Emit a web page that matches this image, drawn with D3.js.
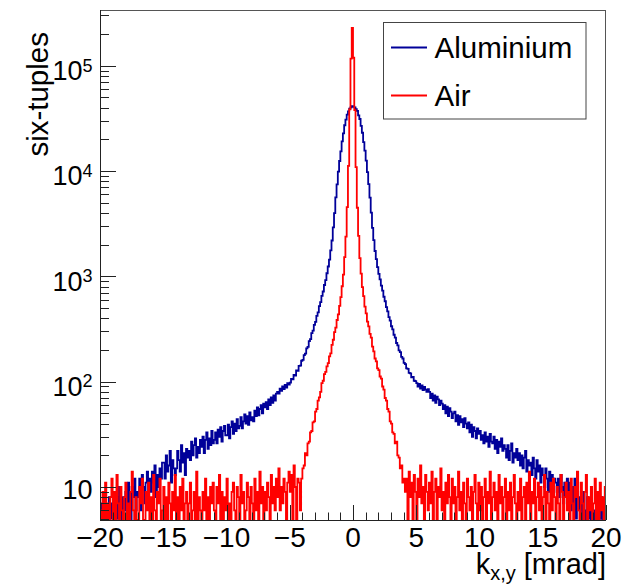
<!DOCTYPE html>
<html><head><meta charset="utf-8">
<script src="https://cdn.jsdelivr.net/npm/d3@7"></script>
<style>
html,body{margin:0;padding:0;background:#fff;}
svg{display:block;font-family:"Liberation Sans",Arial,Helvetica,sans-serif;}
text{white-space:pre;}
</style>
</head><body>
<svg id="c" width="640" height="585"></svg>
<script>
// ---------------- data ----------------
const xRange = [-20, 20];            // histogram range (mrad), 400 bins of 0.1 mrad
const yRange = [4.86, 3.38e5];       // log axis range
const seriesNames = ["Aluminium", "Air"];
const seriesColors = ["#000099", "#ff0000"];

const aluminium = [
 4,7,3,9,5,6,2,8,5,7,
 6,9,4,8,5,10,7,3,8,6,
 9,5,11,7,4,10,8,12,6,9,
 8,12,6,13,10,7,11,14,9,12,
 9,14,11,16,8,13,10,15,12,17,
 17,12,20,14,16,22,11,18,15,13,
 15,22,18,14,25,17,21,13,23,19,
 22,18,27,20,25,29,19,24,21,28,
 24,30,21,28,33,23,29,25,34,26,
 28,33,26,35,30,37,27,34,38,31,
 31,39,29,37,42,32,40,34,44,36,
 38,46,36,42,49,40,47,39,51,43,
 46,42,53,47,57,48,55,60,50,62,
 57,64,55,68,60,71,63,74,66,77,
 80,77,86,82,90,85,93,88,97,94,
 98,106,105,116,114,128,127,141,142,158,
 161,179,185,207,214,243,254,289,305,346,
 370,421,455,522,568,652,718,828,922,1070,
 1240,1440,1765,2190,2920,3980,5630,7470,9850,12450,
 15400,19100,22800,27200,30700,34300,36800,39200,40200,41300,
 40800,40300,38700,37200,33800,31200,26800,23100,18800,15600,
 12550,9750,7520,5580,4020,2880,2210,1740,1460,1225,
 1055,935,815,731,640,580,510,466,410,380,
 336,314,279,262,233,221,198,191,172,166,
 151,147,134,132,121,120,110,111,102,101,
 97,90,95,86,92,83,89,84,80,85,
 80,70,77,66,74,63,72,68,60,66,
 62,55,60,50,58,47,56,52,45,50,
 52,42,48,39,47,41,44,37,45,40,
 36,41,33,39,30,37,34,29,36,32,
 34,28,31,26,33,27,30,24,32,27,
 26,30,23,28,21,27,24,29,22,25,
 23,19,25,18,22,26,17,21,19,23,
 18,21,16,20,15,19,22,14,18,16,
 17,13,19,15,12,18,14,16,11,15,
 13,10,15,12,9,14,11,13,8,12,
 11,9,12,8,13,10,7,11,9,12,
 8,11,6,10,7,12,5,9,8,6,
 7,4,9,6,3,8,5,7,2,6,
 4,6,3,7,2,5,8,3,5,2
];

const air = [
 6,3,9,3,11,4,7,2,8,12,
 3,9,3,13,7,4,10,6,2,8,
 11,3,7,3,9,14,6,4,8,3,
 3,10,7,12,3,2,9,6,11,4,
 8,3,13,6,3,9,7,12,4,6,
 10,3,8,3,11,7,2,9,6,13,
 3,8,4,10,6,12,3,7,9,3,
 7,11,4,6,9,3,14,3,8,6,
 4,9,6,12,3,8,3,10,7,11,
 6,4,10,7,13,3,9,3,8,6,
 12,3,7,4,9,11,6,3,10,8,
 3,13,7,9,4,6,11,8,3,10,
 7,4,12,6,9,3,14,7,10,4,
 9,6,11,8,3,13,7,10,6,12,
 8,15,6,10,7,12,9,3,11,14,
 9,13,4,16,10,3,12,11,6,12,
 15,16,21,20,26,27,33,34,41,42,
 52,55,66,71,80,97,102,118,124,140,
 150,174,186,224,250,295,326,385,436,525,
 635,805,1040,1520,2380,4550,11200,38500,117000,228000,
 119000,37800,10900,4480,2420,1490,1060,790,648,515,
 445,372,335,284,262,215,194,166,156,134,
 129,112,107,90,84,70,66,55,52,42,
 40,33,32,26,27,20,19,15,16,11,
 12,9,12,3,14,8,11,4,13,9,
 3,12,8,16,7,10,4,13,9,6,
 11,7,14,3,9,12,3,10,8,15,
 6,9,4,11,7,13,8,3,12,7,
 10,3,8,14,6,9,3,11,7,4,
 12,8,6,10,3,9,13,7,3,11,
 6,10,4,8,12,3,9,7,14,3,
 8,11,6,9,4,13,7,10,3,8,
 12,4,9,6,11,3,8,13,7,3,
 9,6,12,4,8,10,3,11,7,14,
 3,9,7,12,4,8,11,6,10,3,
 8,13,3,9,7,4,11,6,12,8,
 3,10,7,3,13,9,4,8,11,6,
 9,3,12,7,3,10,8,14,6,4,
 11,7,3,9,13,4,8,6,10,3,
 7,12,3,9,4,11,6,8,3,10
];

const xMajorTicks = [-20,-15,-10,-5,0,5,10,15,20];
const xTickLabels = ["\u221220","\u221215","\u221210","\u22125","0","5","10","15","20"];
const yMajorTicks = [10,100,1000,10000,100000];
const yTickExponents = ["","2","3","4","5"];
const xTitleMain = "k", xTitleSub = "x,y", xTitleRest = " [mrad]";
const yTitle = "six-tuples";

// ---------------- drawing ----------------
const W = 640, H = 585;
const P = {left: 100, right: 606, top: 10, bottom: 520};
const svg = d3.select("#c");
svg.append("rect").attr("width", W).attr("height", H).attr("fill", "#fff");

const x = d3.scaleLinear().domain(xRange).range([P.left, P.right]);
const y = d3.scaleLog().domain(yRange).range([P.bottom, P.top]).clamp(true);

svg.append("clipPath").attr("id","clip").append("rect")
  .attr("x", P.left).attr("y", P.top).attr("width", P.right - P.left).attr("height", P.bottom - P.top);

function stepPath(vals){
  const n = vals.length, bw = (xRange[1]-xRange[0]) / n;
  const pts = [];
  vals.forEach((v, i) => {
    const yy = y(Math.max(v, yRange[0]));
    pts.push([x(xRange[0] + i*bw), yy]);
    pts.push([x(xRange[0] + (i+1)*bw), yy]);
  });
  return d3.line()(pts);
}

const gData = svg.append("g").attr("clip-path","url(#clip)");
[aluminium, air].forEach((vals, k) => {
  gData.append("path").attr("d", stepPath(vals))
    .attr("fill","none").attr("stroke", seriesColors[k])
    .attr("stroke-width", 1.8).attr("stroke-linejoin","miter");
});

// frame
svg.append("rect").attr("x", P.left + 0.5).attr("y", P.top + 0.5)
  .attr("width", P.right - P.left - 1).attr("height", P.bottom - P.top)
  .attr("fill","none").attr("stroke","#555").attr("stroke-width",1);
svg.append("line").attr("x1", P.left+0.5).attr("x2", P.left+0.5).attr("y1", P.top).attr("y2", P.bottom+0.5)
  .attr("stroke","#222");
svg.append("line").attr("x1", P.left).attr("x2", P.right).attr("y1", P.bottom+0.5).attr("y2", P.bottom+0.5)
  .attr("stroke","#222");

// x ticks
const gx = svg.append("g");
d3.range(xRange[0], xRange[1] + 1, 1).forEach(v => {
  const major = xMajorTicks.includes(v);
  const px = Math.round(x(v)) + 0.5;
  gx.append("line").attr("x1", px).attr("x2", px)
    .attr("y1", P.bottom).attr("y2", P.bottom - (major ? 15 : 7.5))
    .attr("stroke","#222").attr("stroke-width",1);
});
xMajorTicks.forEach((v, i) => {
  gx.append("text").attr("x", x(v)).attr("y", 546.5)
    .attr("text-anchor","middle").attr("font-size", 28).attr("fill","#000")
    .text(xTickLabels[i]);
});

// y ticks
const gy = svg.append("g");
y.ticks().forEach(v => {
  const major = Math.abs(Math.log10(v) - Math.round(Math.log10(v))) < 1e-9;
  const py = Math.round(y(v)) + 0.5;
  if (py < P.top || py > P.bottom) return;
  gy.append("line").attr("x1", P.left).attr("x2", P.left + (major ? 16 : 9))
    .attr("y1", py).attr("y2", py).attr("stroke","#222").attr("stroke-width",1);
});
yMajorTicks.forEach((v, i) => {
  const t = gy.append("text").attr("x", 92.5)
    .attr("y", y(v) + (yTickExponents[i] ? 14.3 : 12.3))
    .attr("text-anchor","end").attr("font-size", 27).attr("fill","#000");
  t.append("tspan").text("10");
  if (yTickExponents[i]) t.append("tspan").attr("dy", -8.5).attr("font-size", 18).text(yTickExponents[i]);
});

// axis titles
const xt = svg.append("text").attr("x", P.right).attr("y", 574)
  .attr("text-anchor","end").attr("font-size", 29).attr("fill","#000");
xt.append("tspan").text(xTitleMain);
xt.append("tspan").attr("dy", 6).attr("font-size", 20).text(xTitleSub);
xt.append("tspan").attr("dy", -6).text(xTitleRest);

svg.append("text").attr("transform","translate(48,32) rotate(-90)")
  .attr("text-anchor","end").attr("font-size", 29.5).attr("fill","#000").text(yTitle);

// legend
const L = {x0: 383.5, y0: 22.5, x1: 586, y1: 119};
svg.append("rect").attr("x", L.x0).attr("y", L.y0).attr("width", L.x1 - L.x0).attr("height", L.y1 - L.y0)
  .attr("fill","#fff").attr("stroke","#444").attr("stroke-width",1);
const legendY = [47.5, 95.5];
seriesNames.forEach((name, k) => {
  svg.append("line").attr("x1", 391).attr("x2", 427).attr("y1", legendY[k]).attr("y2", legendY[k])
    .attr("stroke", seriesColors[k]).attr("stroke-width", 2);
  svg.append("text").attr("x", 434.5).attr("y", legendY[k] + 10.8)
    .attr("font-size", 29.5).attr("fill","#000").text(name);
});
</script>
</body></html>
